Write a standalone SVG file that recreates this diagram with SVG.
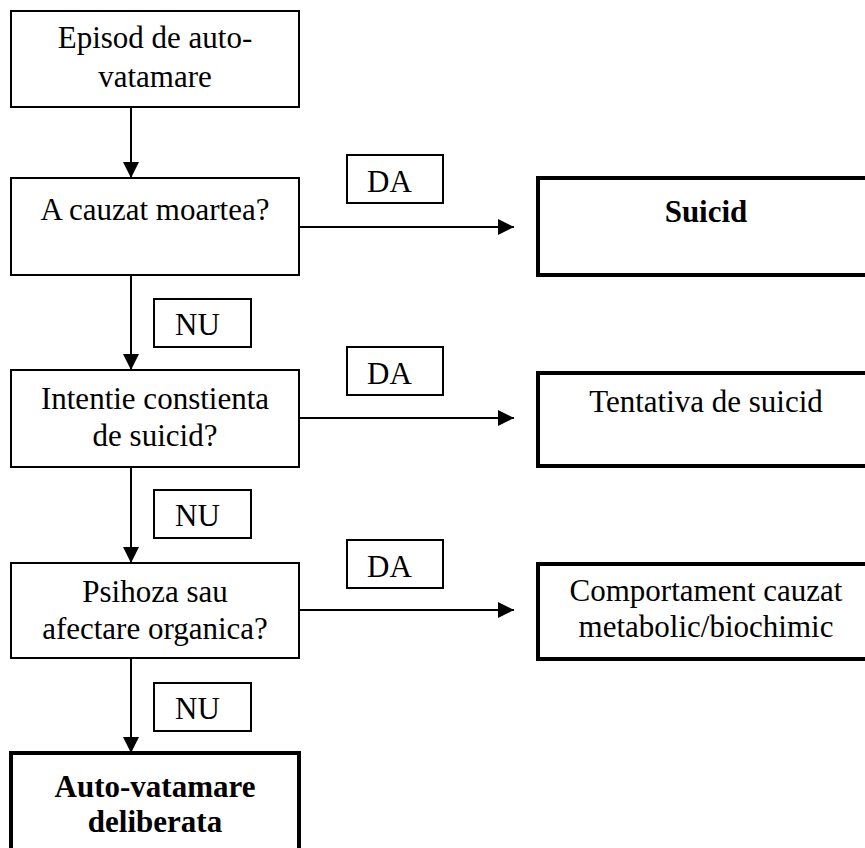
<svg xmlns="http://www.w3.org/2000/svg" width="865" height="848" viewBox="0 0 865 848">
<style>
  .box{fill:#fff;stroke:#000;stroke-width:2}
  .thick{fill:#fff;stroke:#000;stroke-width:4}
  .t{font-family:"Liberation Serif","Times New Roman",serif;font-size:31px;fill:#000;text-anchor:middle}
  .b{font-weight:bold}
  .lbl{font-family:"Liberation Serif","Times New Roman",serif;font-size:31px;fill:#000}
  .c{stroke:#000;stroke-width:2;fill:none}
</style>
<defs>
  <marker id="ah" markerUnits="userSpaceOnUse" markerWidth="16" markerHeight="16" refX="16" refY="8" orient="auto">
    <path d="M0,0 L16,8 L0,16 Z" fill="#000"/>
  </marker>
</defs>
<rect width="865" height="848" fill="#fff"/>
<g id="connectors">
  <line class="c" x1="131" y1="107" x2="131" y2="178" marker-end="url(#ah)"/>
  <line class="c" x1="131" y1="275" x2="131" y2="370" marker-end="url(#ah)"/>
  <line class="c" x1="131" y1="467" x2="131" y2="563" marker-end="url(#ah)"/>
  <line class="c" x1="131" y1="658" x2="131" y2="753" marker-end="url(#ah)"/>
  <line class="c" x1="299" y1="227" x2="514" y2="227" marker-end="url(#ah)"/>
  <line class="c" x1="299" y1="418" x2="514" y2="418" marker-end="url(#ah)"/>
  <line class="c" x1="299" y1="610" x2="514" y2="610" marker-end="url(#ah)"/>
</g>
<g id="n1"><rect class="box" x="11" y="11" width="288" height="96"/>
  <text class="t" x="155" y="48">Episod de auto-</text><text class="t" x="155" y="87">vatamare</text></g>
<g id="n2"><rect class="box" x="11" y="178" width="288" height="97"/>
  <text class="t" x="155" y="220">A cauzat moartea?</text></g>
<g id="n3"><rect class="box" x="11" y="370" width="288" height="97"/>
  <text class="t" x="155" y="409">Intentie constienta</text><text class="t" x="155" y="446">de suicid?</text></g>
<g id="n4"><rect class="box" x="11" y="563" width="288" height="95"/>
  <text class="t" x="155" y="602">Psihoza sau</text><text class="t" x="155" y="639">afectare organica?</text></g>
<g id="n5"><rect class="thick" x="11" y="753" width="288" height="110"/>
  <text class="t b" x="155" y="797">Auto-vatamare</text><text class="t b" x="155" y="832">deliberata</text></g>
<g id="n6"><rect class="thick" x="538" y="178" width="340" height="97"/>
  <text class="t b" x="706" y="222">Suicid</text></g>
<g id="n7"><rect class="thick" x="538" y="373" width="340" height="93"/>
  <text class="t" x="706" y="412">Tentativa de suicid</text></g>
<g id="n8"><rect class="thick" x="538" y="564" width="340" height="95"/>
  <text class="t" x="706" y="601">Comportament cauzat</text><text class="t" x="706" y="637">metabolic/biochimic</text></g>
<g id="da1"><rect class="box" x="347" y="155" width="96" height="48"/><text class="lbl" x="367" y="192">DA</text></g>
<g id="da2"><rect class="box" x="347" y="347" width="96" height="48"/><text class="lbl" x="367" y="384">DA</text></g>
<g id="da3"><rect class="box" x="347" y="540" width="96" height="48"/><text class="lbl" x="367" y="577">DA</text></g>
<g id="nu1"><rect class="box" x="154" y="299" width="97" height="48"/><text class="lbl" x="175" y="335">NU</text></g>
<g id="nu2"><rect class="box" x="154" y="490" width="97" height="48"/><text class="lbl" x="175" y="526">NU</text></g>
<g id="nu3"><rect class="box" x="154" y="683" width="97" height="48"/><text class="lbl" x="175" y="719">NU</text></g>
</svg>
